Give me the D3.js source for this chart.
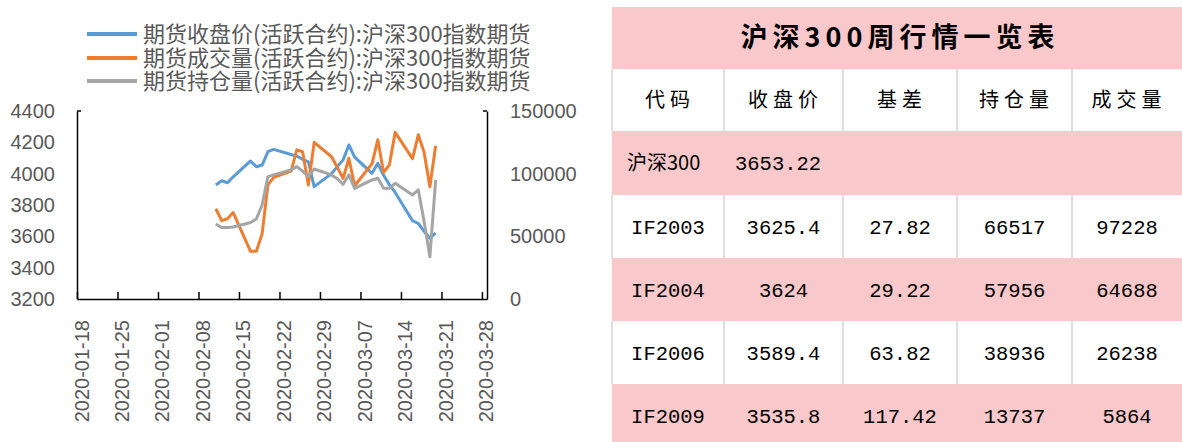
<!DOCTYPE html>
<html>
<head>
<meta charset="utf-8">
<script src="https://cdn.jsdelivr.net/npm/d3@7"></script>
<style>
  body { margin: 0; background: #fff; }
  svg { display: block; }
  .axis path, .axis line { stroke: #000; stroke-width: 1.5; }
  .axis text { fill: #595959; font-family: "Liberation Sans", "Noto Sans", sans-serif; font-size: 20px; }
</style>
</head>
<body>
<svg id="chart" width="1182" height="442"></svg>
<script>
// trading days shown in the chart
const dates = [
  "2020-02-11", "2020-02-12", "2020-02-13", "2020-02-14",
  "2020-02-17", "2020-02-18", "2020-02-19", "2020-02-20", "2020-02-21",
  "2020-02-24", "2020-02-25", "2020-02-26", "2020-02-27", "2020-02-28",
  "2020-03-02", "2020-03-03", "2020-03-04", "2020-03-05", "2020-03-06",
  "2020-03-09", "2020-03-10", "2020-03-11", "2020-03-12", "2020-03-13",
  "2020-03-16", "2020-03-17", "2020-03-18", "2020-03-19", "2020-03-20"
];
const closePrice = [
  3928, 3955, 3942, 3980,
  4081, 4044, 4055, 4140, 4155,
  4122, 4112, 4092, 4076, 3917,
  4000, 4045, 4088, 4183, 4105,
  4002, 4066, 3990, 3930, 3880,
  3700, 3682, 3632, 3588, 3620
];
const volume = [
  72000, 62500, 64000, 69000,
  38000, 38000, 52000, 91000, 97000,
  102000, 119000, 117500, 91000, 125000,
  113500, 105000, 96300, 112300, 90400,
  108000, 127000, 101000, 107000, 133000,
  112000, 131000, 117000, 89600, 122300
];
const openInterest = [
  59800, 57000, 57000, 57500,
  61000, 63800, 75000, 97600, 99000,
  103000, 105600, 102000, 97600, 103700,
  99000, 96000, 91500, 99000, 88300,
  95000, 96300, 88300, 88300, 92300,
  83000, 87000, 62000, 33800, 95000
];
const seriesNames = [
  "期货收盘价(活跃合约):沪深300指数期货",
  "期货成交量(活跃合约):沪深300指数期货",
  "期货持仓量(活跃合约):沪深300指数期货"
];
const seriesColors = ["#5B9BD5", "#ED7D31", "#A5A5A5"];
const leftTicks = [3200, 3400, 3600, 3800, 4000, 4200, 4400];
const rightTicks = [0, 50000, 100000, 150000];

// weekly table
const tableTitle = "沪深300周行情一览表";
const tableHeaders = ["代码", "收盘价", "基差", "持仓量", "成交量"];
const indexRow = ["沪深300", "3653.22"];
const codes = ["IF2003", "IF2004", "IF2006", "IF2009"];
const closes = ["3625.4", "3624", "3589.4", "3535.8"];
const basis = ["27.82", "29.22", "63.82", "117.42"];
const holdings = ["66517", "57956", "38936", "13737"];
const turnover = ["97228", "64688", "26238", "5864"];

const svg = d3.select("#chart");
const parse = d3.timeParse("%Y-%m-%d");
const days = dates.map(parse);

const x = d3.scaleTime()
  .domain([parse("2020-01-18"), new Date(2020, 2, 28, 21)])
  .range([77, 487]);
const yL = d3.scaleLinear().domain([3200, 4400]).range([299, 111]);
const yR = d3.scaleLinear().domain([0, 150000]).range([299, 111]);

// x axis: weekly ticks pointing up, labels rotated
const xTicks = d3.timeDay.range(parse("2020-01-18"), parse("2020-03-29"), 7);
const gx = svg.append("g")
  .attr("class", "axis")
  .attr("transform", "translate(0,299)")
  .call(d3.axisBottom(x).tickValues(xTicks).tickSize(-7).tickSizeOuter(0)
    .tickFormat(d3.timeFormat("%Y-%m-%d")));
gx.selectAll("text")
  .attr("transform", "rotate(-90)")
  .attr("x", -21).attr("y", 0)
  .attr("dy", "0.55em")
  .attr("text-anchor", "end");

const gl = svg.append("g")
  .attr("class", "axis")
  .attr("transform", "translate(77,0)")
  .call(d3.axisLeft(yL).tickValues(leftTicks).tickFormat(d3.format("d"))
    .tickSize(0).tickPadding(22));
gl.append("line").attr("x1", 0).attr("x2", 4).attr("y1", yL(4400)).attr("y2", yL(4400));

const gr = svg.append("g")
  .attr("class", "axis")
  .attr("transform", "translate(487,0)")
  .call(d3.axisRight(yR).tickValues(rightTicks).tickFormat(d3.format("d"))
    .tickSize(0).tickPadding(23));
gr.append("line").attr("x1", 0).attr("x2", -4).attr("y1", yR(150000)).attr("y2", yR(150000));

// lines
const series = [
  { values: closePrice, y: yL },
  { values: volume, y: yR },
  { values: openInterest, y: yR }
];
series.forEach((s, i) => {
  const line = d3.line()
    .x((d, j) => x(days[j]))
    .y(d => s.y(d));
  svg.append("path")
    .datum(s.values)
    .attr("fill", "none")
    .attr("stroke", seriesColors[i])
    .attr("stroke-width", 3)
    .attr("stroke-linejoin", "round")
    .attr("d", line);
});

// legend
const legend = svg.append("g");
const legendY = [34, 58, 81];
seriesNames.forEach((name, i) => {
  legend.append("line")
    .attr("x1", 87).attr("x2", 137)
    .attr("y1", legendY[i]).attr("y2", legendY[i])
    .attr("stroke", seriesColors[i]).attr("stroke-width", 4);
  legend.append("text")
    .attr("x", 143).attr("y", legendY[i]).attr("dy", "0.35em")
    .attr("fill", "#595959")
    .style("font-family", "'Noto Sans CJK SC', sans-serif")
    .style("font-size", "22px")
    .text(name);
});

// table
const pink = "#F8C8CA";
const colEdges = [612, 724, 843, 957, 1072, 1182];
const rowEdges = [7, 69, 131, 195, 258, 321, 384, 447];
const tbl = svg.append("g");
const monoFont = "'Liberation Mono', 'DejaVu Sans Mono', monospace";
const cjkFont = "'Noto Sans CJK SC', sans-serif";

const bodyRows = codes.map((c, i) => [c, closes[i], basis[i], holdings[i], turnover[i]]);
const rows = [
  { kind: "title", fill: pink },
  { kind: "header", fill: "#fff", cells: tableHeaders },
  { kind: "index", fill: pink, cells: indexRow },
  ...bodyRows.map((r, i) => ({ kind: "body", fill: i % 2 === 0 ? "#fff" : pink, cells: r }))
];

rows.forEach((r, i) => {
  const y0 = rowEdges[i], y1 = rowEdges[i + 1], cy = (y0 + y1) / 2;
  tbl.append("rect")
    .attr("x", colEdges[0]).attr("y", y0)
    .attr("width", colEdges[5] - colEdges[0]).attr("height", y1 - y0)
    .attr("fill", r.fill);
  if (r.fill === "#fff") {
    colEdges.slice(0, 5).forEach(cx => {
      tbl.append("line")
        .attr("x1", cx).attr("x2", cx).attr("y1", y0).attr("y2", y1)
        .attr("stroke", "#D4D4D4").attr("stroke-width", 1.5);
    });
  }
  if (r.kind === "title") {
    tbl.append("text")
      .attr("x", (colEdges[0] + colEdges[5]) / 2 + 3).attr("y", cy).attr("dy", "0.35em")
      .attr("text-anchor", "middle")
      .style("font-family", cjkFont).style("font-size", "27px").style("font-weight", 700)
      .style("letter-spacing", "5px")
      .text(tableTitle);
  } else if (r.kind === "header") {
    r.cells.forEach((t, j) => {
      tbl.append("text")
        .attr("x", (colEdges[j] + colEdges[j + 1]) / 2 + 2).attr("y", cy).attr("dy", "0.35em")
        .attr("text-anchor", "middle")
        .style("font-family", cjkFont).style("font-size", "20px")
        .style("letter-spacing", "5px")
        .text(t);
    });
  } else if (r.kind === "index") {
    tbl.append("text")
      .attr("x", colEdges[0] + 15).attr("y", cy).attr("dy", "0.35em")
      .style("font-family", cjkFont).style("font-size", "20px")
      .text(r.cells[0]);
    tbl.append("text")
      .attr("x", colEdges[1] + 11).attr("y", cy).attr("dy", "0.35em")
      .style("font-family", monoFont).style("font-size", "20.5px")
      .text(r.cells[1]);
  } else {
    r.cells.forEach((t, j) => {
      tbl.append("text")
        .attr("x", (colEdges[j] + colEdges[j + 1]) / 2).attr("y", cy).attr("dy", "0.35em")
        .attr("text-anchor", "middle")
        .style("font-family", monoFont).style("font-size", "20.5px")
        .text(t);
    });
  }
});
</script>
</body>
</html>
